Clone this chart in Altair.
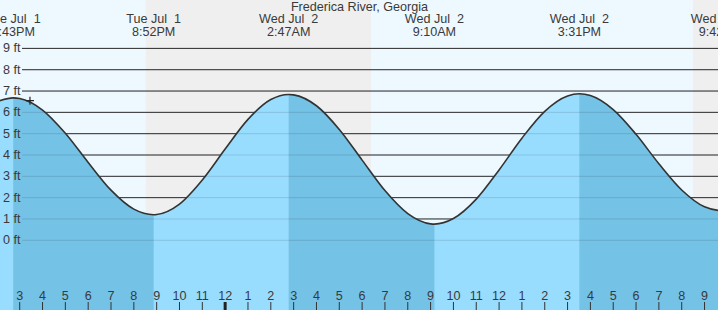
import altair as alt
import pandas as pd

# ---- data ----
# time in hours since Tue Jul 1 00:00, tide height in ft
times = [14.0, 14.717, 15, 16, 17, 18, 19, 20, 20.867, 21, 22, 23, 24, 25, 26, 26.783,
         27, 28, 29, 30, 31, 32, 33, 33.167, 34, 35, 36, 37, 38, 39, 39.517,
         40, 41, 42, 43, 44, 45, 45.7, 46]
heights = [6.50, 6.68, 6.65, 6.11, 5.02, 3.65, 2.35, 1.46, 1.20, 1.21, 1.70, 2.83, 4.28, 5.67, 6.60, 6.84,
           6.82, 6.31, 5.20, 3.76, 2.33, 1.25, 0.77, 0.76, 1.02, 1.93, 3.30, 4.79, 6.05, 6.77, 6.87,
           6.79, 6.13, 4.97, 3.59, 2.36, 1.57, 1.40, 1.42]

ext_times = [14.717, 20.867, 26.783, 33.167, 39.517, 45.7]
ext_day = ["Tue Jul \u00a01", "Tue Jul \u00a01", "Wed Jul \u00a02", "Wed Jul \u00a02", "Wed Jul \u00a02", "Wed Jul \u00a02"]
ext_clock = ["2:43PM", "8:52PM", "2:47AM", "9:10AM", "3:31PM", "9:42PM"]
ext_kind = ["high", "low", "high", "low", "high", "low"]

day_start = [14.0, 30.39]
day_end = [20.53, 44.49]
night_start = [20.53, 44.49]
night_end = [30.39, 46.0]

hour_ticks = list(range(15, 46))
ft_values = list(range(0, 10))
now_time = 15.45
now_height = 6.55
title_text = "Frederica River, Georgia"

# ---- scales ----
X0, X1 = 14.137, 45.59
Y0, Y1 = -3.27, 11.27
xs = alt.Scale(domain=[X0, X1], nice=False, zero=False)
ys = alt.Scale(domain=[Y0, Y1], nice=False, zero=False)
FONT = "Liberation Sans"
FS = 12.6
TXT = "#3a3a3a"

curve = pd.DataFrame({"t": times, "h": heights})

seg_rows = []
for i in range(len(ext_times) - 1):
    if ext_kind[i] == "high":
        ta, tb = ext_times[i], ext_times[i + 1]
        for t, h in zip(times, heights):
            if ta <= t <= tb:
                seg_rows.append({"t": t, "h": h, "seg": i})
falling = pd.DataFrame(seg_rows)

days = pd.DataFrame({"s": day_start, "e": day_end})
nights = pd.DataFrame({"s": night_start, "e": night_end})
ticks = pd.DataFrame({"t": hour_ticks,
                      "lab": [str((h - 1) % 12 + 1) for h in hour_ticks],
                      "mid": [h % 24 == 0 for h in hour_ticks]})
ft = pd.DataFrame({"v": ft_values, "lab": [f"{v} ft" for v in ft_values]})
ext = pd.DataFrame({"t": ext_times, "day": ext_day, "clock": ext_clock})
now = pd.DataFrame({"t": [now_time], "h": [now_height]})

X = alt.X("t:Q", scale=xs, axis=None)

bg_day = alt.Chart(days).mark_rect(color="#EEF8FF", clip=True).encode(
    x=alt.X("s:Q", scale=xs, axis=None), x2="e:Q", y=alt.value(0), y2=alt.value(310))
bg_night = alt.Chart(nights).mark_rect(color="#EFEFEF", clip=True).encode(
    x=alt.X("s:Q", scale=xs, axis=None), x2="e:Q", y=alt.value(0), y2=alt.value(310))

grid = alt.Chart(ft).mark_rule(color="#333333", strokeWidth=1).encode(
    y=alt.Y("v:Q", scale=ys, axis=None), x=alt.value(22), x2=alt.value(718))

area_light = alt.Chart(curve).mark_area(color="#98DCFE", interpolate="monotone", clip=True).encode(
    x=X, y=alt.Y("h:Q", scale=ys, axis=None), y2=alt.datum(Y0))
area_dark = alt.Chart(falling).mark_area(color="#74C2E6", interpolate="monotone", clip=True).encode(
    x=X, y=alt.Y("h:Q", scale=ys, axis=None), y2=alt.datum(Y0), detail="seg:N")

grid_over = alt.Chart(ft).mark_rule(color="#000000", opacity=0.12, strokeWidth=1).encode(
    y=alt.Y("v:Q", scale=ys, axis=None), x=alt.value(22), x2=alt.value(718))

line = alt.Chart(curve).mark_line(color="#333333", strokeWidth=1.6, interpolate="monotone", clip=True).encode(
    x=X, y=alt.Y("h:Q", scale=ys, axis=None))

ft_text = alt.Chart(ft).mark_text(align="right", baseline="middle", font=FONT, fontSize=FS, color=TXT).encode(
    y=alt.Y("v:Q", scale=ys, axis=None), x=alt.value(20.5), text="lab:N")

tick_marks = alt.Chart(ticks).transform_filter("!datum.mid").mark_rule(color="#333333", strokeWidth=1).encode(
    x=X, y=alt.value(302), y2=alt.value(310))
tick_mid = alt.Chart(ticks).transform_filter("datum.mid").mark_rule(color="#222222", strokeWidth=3).encode(
    x=X, y=alt.value(302), y2=alt.value(310))
tick_text = alt.Chart(ticks).mark_text(baseline="middle", font=FONT, fontSize=FS, color=TXT).encode(
    x=X, y=alt.value(296), text="lab:N")

ext_day_text = alt.Chart(ext).mark_text(baseline="middle", font=FONT, fontSize=FS, color=TXT).encode(
    x=X, y=alt.value(19), text="day:N")
ext_clock_text = alt.Chart(ext).mark_text(baseline="middle", font=FONT, fontSize=FS, color=TXT).encode(
    x=X, y=alt.value(32), text="clock:N")

now_mark = alt.Chart(now).mark_point(shape="M-1,0L1,0M0,-1L0,1", size=64, color="#222222",
                                     strokeWidth=1.2, filled=False, opacity=1).encode(
    x=X, y=alt.Y("h:Q", scale=ys, axis=None))

title = alt.Chart(pd.DataFrame({"txt": [title_text]})).mark_text(
    baseline="middle", font=FONT, fontSize=FS, color=TXT).encode(
    x=alt.value(359.5), y=alt.value(7), text="txt:N")

chart = alt.layer(
    bg_day, bg_night, grid, area_light, area_dark, grid_over, line,
    ft_text, tick_marks, tick_mid, tick_text, ext_day_text, ext_clock_text, now_mark, title
).properties(width=718, height=310, padding=0, autosize="none").configure_view(strokeWidth=0)

chart.save("out.html", embed_options={"renderer": "svg", "actions": False})
